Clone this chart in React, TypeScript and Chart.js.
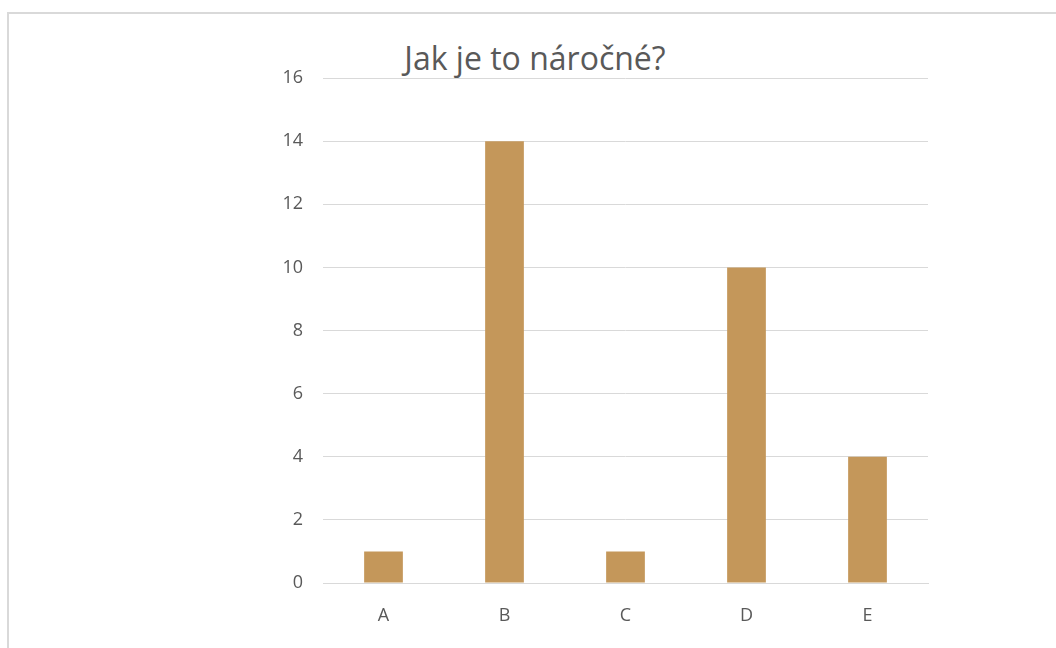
import React, { useEffect, useRef } from "react";
import { Chart, registerables } from "chart.js";

Chart.register(...registerables);

const categories = ["A", "B", "C", "D", "E"];
const counts = [1, 14, 1, 10, 4];
const yTicks = [0, 2, 4, 6, 8, 10, 12, 14, 16];
const chartTitle = "Jak je to náročné?";

const FONT = '"Open Sans", "Segoe UI", sans-serif';
const TEXT = "#595959";
const GRID = "#d9d9d9";
const BAR = "#c4975a";

export default function App() {
  const canvasRef = useRef<HTMLCanvasElement | null>(null);

  useEffect(() => {
    const canvas = canvasRef.current;
    if (!canvas) return;
    const chart = new Chart(canvas, {
      type: "bar",
      data: {
        labels: categories,
        datasets: [
          {
            data: counts,
            backgroundColor: BAR,
            borderWidth: 0,
            categoryPercentage: 1,
            barPercentage: 0.32,
          },
        ],
      },
      options: {
        animation: false,
        responsive: false,
        maintainAspectRatio: false,
        layout: { padding: { top: 78, right: 128, bottom: 0, left: 0 } },
        plugins: {
          legend: { display: false },
          tooltip: { enabled: false },
          title: { display: false },
        },
        scales: {
          x: {
            grid: { display: false, drawTicks: false },
            border: { display: true, color: GRID, width: 1 },
            ticks: {
              color: TEXT,
              font: { family: FONT, size: 18 },
              padding: 22,
            },
            afterFit: (scale: any) => {
              scale.height = 65;
            },
          },
          y: {
            min: 0,
            max: 16,
            afterBuildTicks: (scale: any) => {
              scale.ticks = yTicks.map((v) => ({ value: v }));
            },
            grid: { color: GRID, lineWidth: 1, drawTicks: false },
            border: { display: false },
            ticks: {
              color: TEXT,
              font: { family: FONT, size: 18 },
              padding: 20,
            },
            afterFit: (scale: any) => {
              scale.width = 323;
            },
          },
        },
      },
    });
    return () => chart.destroy();
  }, []);

  return (
    <div
      style={{
        position: "fixed",
        left: 0,
        top: 0,
        width: 1056,
        height: 648,
        overflow: "hidden",
        background: "#fff",
      }}
    >
      <div
        style={{
          position: "absolute",
          left: 7,
          top: 12,
          width: 1100,
          height: 700,
          border: `2px solid ${GRID}`,
          boxSizing: "border-box",
        }}
      />
      <div
        style={{
          position: "absolute",
          left: 8,
          width: 1054,
          top: 36,
          textAlign: "center",
          fontFamily: FONT,
          fontSize: 32,
          color: TEXT,
          lineHeight: "44px",
        }}
      >
        {chartTitle}
      </div>
      <canvas
        ref={canvasRef}
        width={1056}
        height={648}
        style={{ position: "absolute", left: 0, top: 0, width: 1056, height: 648 }}
      />
    </div>
  );
}
